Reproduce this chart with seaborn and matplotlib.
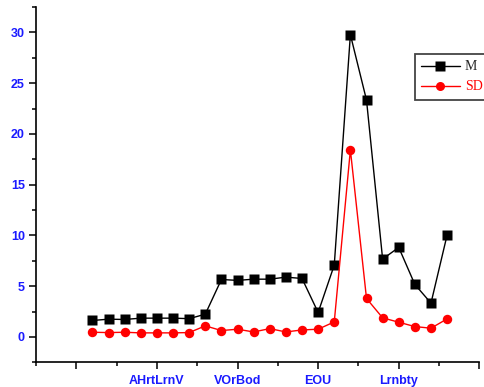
import numpy as np
import pandas as pd
import matplotlib
matplotlib.use("Agg")
import matplotlib.pyplot as plt
import seaborn as sns
from matplotlib.ticker import MultipleLocator
from matplotlib.lines import Line2D

# Values
idx = list(range(1, 24))
m_vals = [1.62, 1.75, 1.72, 1.85, 1.85, 1.85, 1.80, 2.24, 5.66, 5.57, 5.69, 5.69,
          5.89, 5.76, 2.41, 7.08, 29.78, 23.34, 7.67, 8.82, 5.17, 3.33, 10.04]
sd_vals = [0.46, 0.43, 0.46, 0.40, 0.40, 0.40, 0.43, 1.09, 0.63, 0.76, 0.49, 0.82,
           0.49, 0.69, 0.76, 1.48, 18.43, 3.79, 1.88, 1.45, 1.02, 0.86, 1.78]
tick_pos = [0, 5, 10, 15, 20, 25]
tick_labels = ["", "AHrtLrnV", "VOrBod", "EOU", "Lrnbty", ""]

df = pd.DataFrame({"idx": idx * 2,
                   "val": m_vals + sd_vals,
                   "stat": ["M"] * len(idx) + ["SD"] * len(idx)})

sns.set_style("ticks")
plt.rcParams['font.family'] = ['Liberation Sans', 'DejaVu Sans']

fig = plt.figure(figsize=(4.84, 3.87), dpi=100)
ax = fig.add_axes([0.0744, 0.0638, 0.9160, 0.918])

sns.lineplot(data=df, x="idx", y="val", hue="stat", style="stat",
             palette={"M": "black", "SD": "red"},
             markers={"M": "s", "SD": "o"}, dashes=False,
             markersize=6.8, linewidth=1, markeredgecolor="none",
             ax=ax, legend=False)

ax.set_xlim(-2.5, 25)
ax.set_ylim(-2.5, 32.5)
ax.set_xticks(tick_pos)
ax.set_xticklabels(tick_labels)
ax.xaxis.set_minor_locator(MultipleLocator(2.5))
ax.set_yticks([0, 5, 10, 15, 20, 25, 30])
ax.yaxis.set_minor_locator(MultipleLocator(2.5))
ax.set_xlabel("")
ax.set_ylabel("")

for s in ["top", "right"]:
    ax.spines[s].set_visible(False)
for s in ["left", "bottom"]:
    ax.spines[s].set_linewidth(1.2)
    ax.spines[s].set_color("black")

ax.tick_params(which="major", length=5, width=1.1, color="black",
               labelsize=9, labelcolor="#1a1aff")
ax.tick_params(axis="x", which="major", pad=4)
ax.tick_params(axis="y", which="major", pad=3)
ax.tick_params(which="minor", length=3, width=1.1, color="black")
for lab in ax.get_xticklabels() + ax.get_yticklabels():
    lab.set_fontweight("bold")

handles = [Line2D([], [], color="black", marker="s", markersize=6.5, lw=1, markeredgecolor="none"),
           Line2D([], [], color="red", marker="o", markersize=6.5, lw=1, markeredgecolor="none")]
leg = fig.legend(handles, ["M", "SD"], loc="upper left",
                 bbox_to_anchor=(0.857, 0.860), bbox_transform=fig.transFigure,
                 borderaxespad=0, frameon=True, fancybox=False, framealpha=1,
                 edgecolor="#444444", prop={"family": "Liberation Serif", "size": 10},
                 handlelength=2.8, borderpad=0.45, labelspacing=0.5, handletextpad=0.35)
leg.get_frame().set_linewidth(1.3)
leg.get_texts()[1].set_color("red")

fig.savefig("out.png", dpi=100)
